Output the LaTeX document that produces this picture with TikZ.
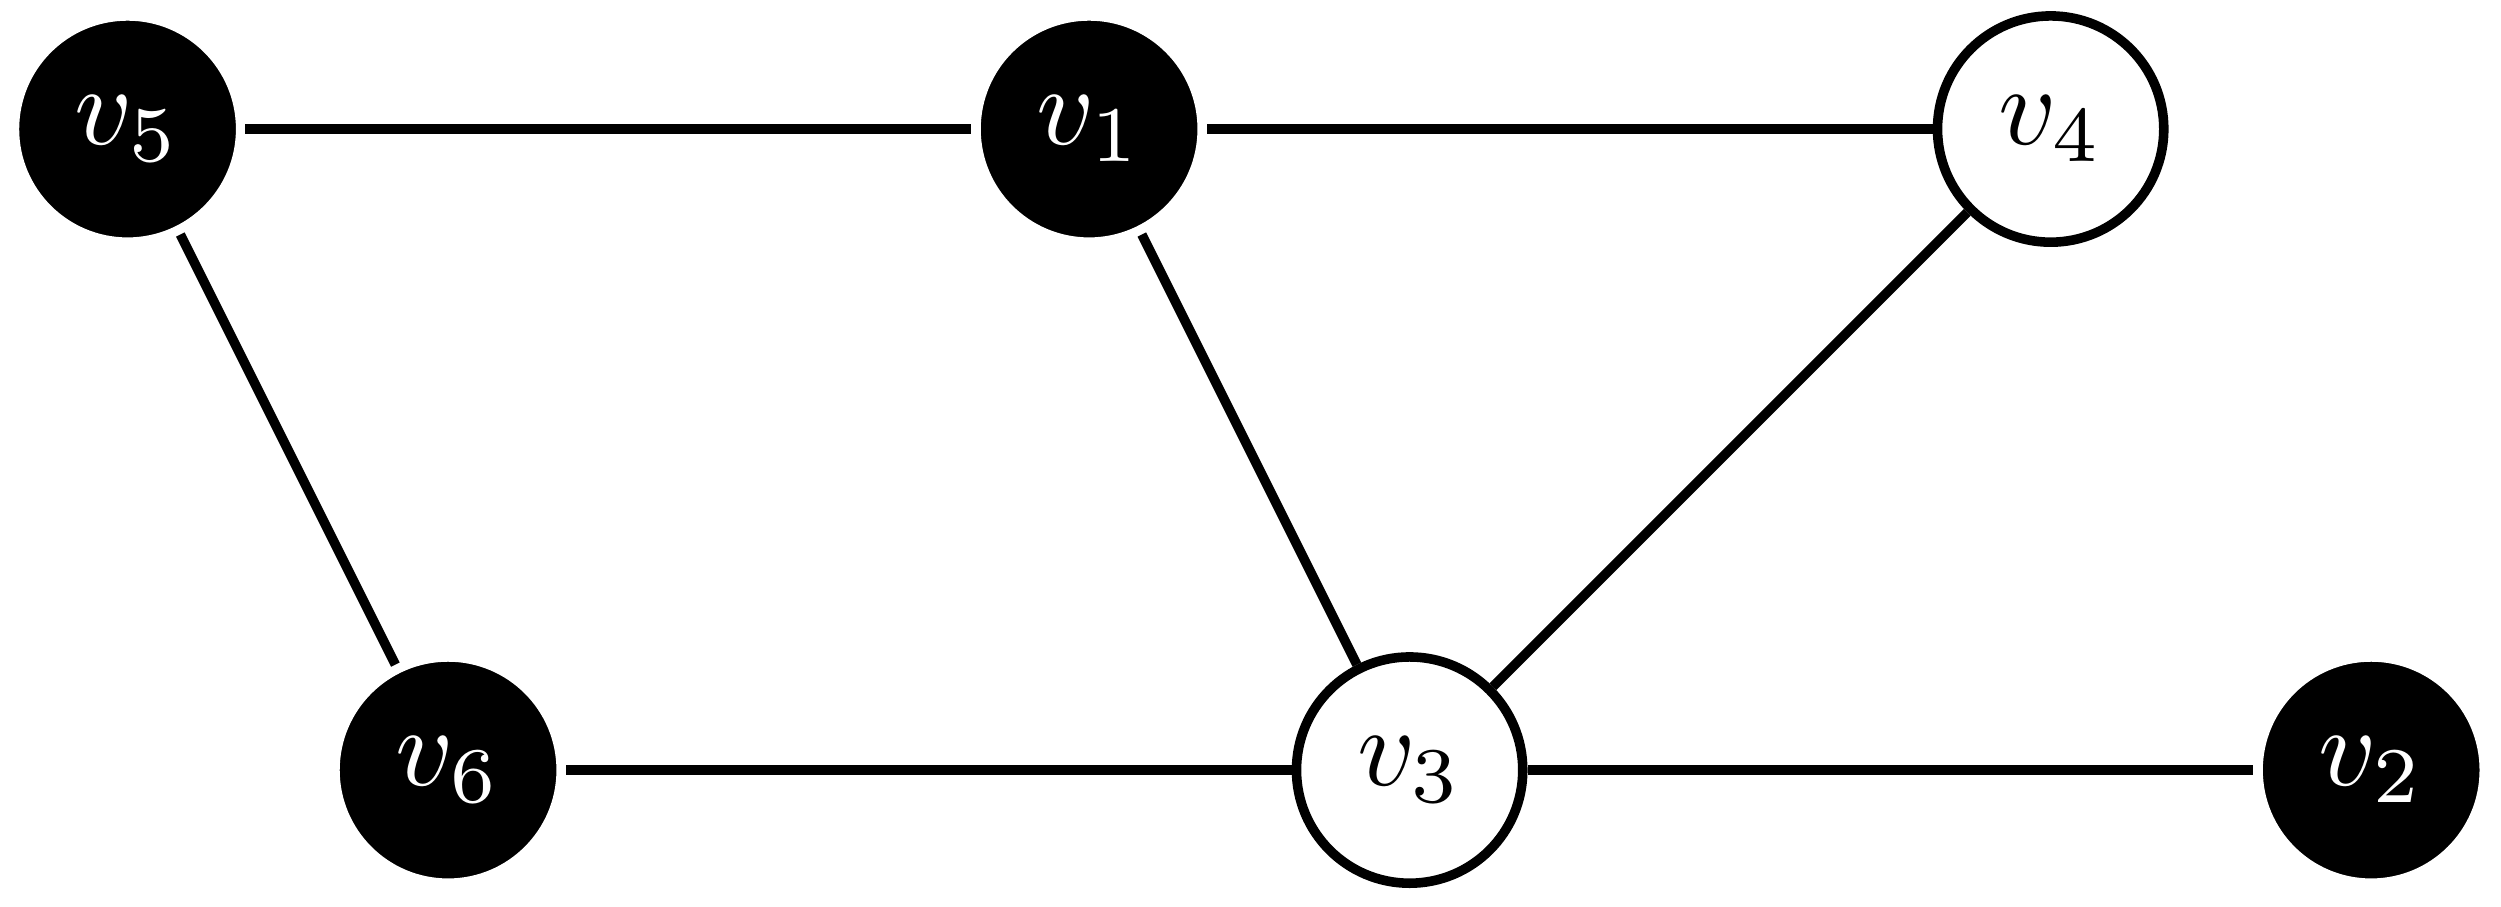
\documentclass[tikz,border=0pt]{standalone}
\begin{document}
\begin{tikzpicture}[x=1cm,y=1cm,
  vtx/.style={circle,minimum size=0.706cm,inner sep=0pt,line width=0.85pt},
  blk/.style={vtx,fill=black,draw=white,text=white},
  wht/.style={vtx,fill=white,draw=black,text=black},
  edge/.style={line width=0.85pt}]
\useasboundingbox (-0.398,-0.4245) rectangle (7.405,2.4025);
\node[blk] (v5) at (0,2) {$v_5$};
\node[blk] (v1) at (3,2) {$v_1$};
\node[wht] (v4) at (6,2) {$v_4$};
\node[blk] (v6) at (1,0) {$v_6$};
\node[wht] (v3) at (4,0) {$v_3$};
\node[blk] (v2) at (7,0) {$v_2$};
\draw[edge] (v5) -- (v1);
\draw[edge] (v1) -- (v4);
\draw[edge] (v5) -- (v6);
\draw[edge] (v1) -- (v3);
\draw[edge] (v4) -- (v3);
\draw[edge] (v6) -- (v3);
\draw[edge] (v3) -- (v2);
\end{tikzpicture}
\end{document}
